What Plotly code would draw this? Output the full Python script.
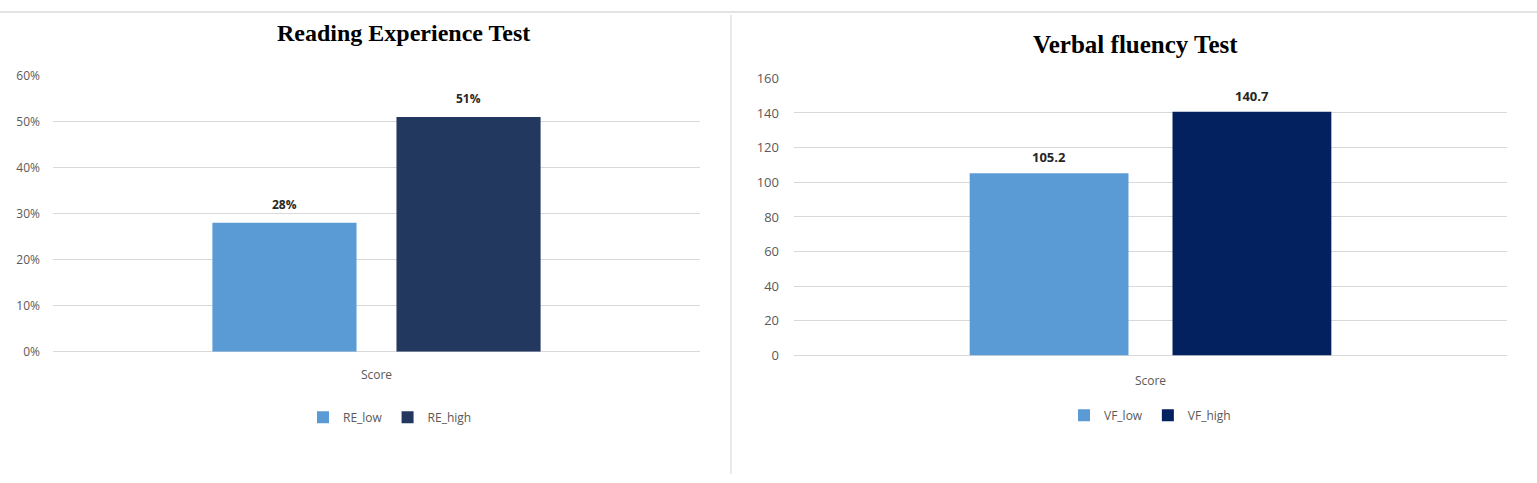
import plotly.graph_objects as go

# ---- data ----
category = ["Score"]
re_names = ["RE_low", "RE_high"]
re_values = [0.28, 0.51]
vf_names = ["VF_low", "VF_high"]
vf_values = [105.2, 140.7]
re_ticks = [0, 0.1, 0.2, 0.3, 0.4, 0.5, 0.6]
vf_ticks = [0, 20, 40, 60, 80, 100, 120, 140, 160]

re_colors = ["#5B9BD5", "#22385F"]
vf_colors = ["#5B9BD5", "#03205F"]

W, H = 1537, 483
BARGAP, BARGROUPGAP = 0.431, 0.217

fig = go.Figure()
for name, val, col in zip(re_names, re_values, re_colors):
    fig.add_trace(go.Bar(x=category, y=[val], name=name,
                         marker=dict(color=col, line_width=0),
                         xaxis="x", yaxis="y", legend="legend"))
for name, val, col in zip(vf_names, vf_values, vf_colors):
    fig.add_trace(go.Bar(x=category, y=[val], name=name,
                         marker=dict(color=col, line_width=0),
                         xaxis="x2", yaxis="y2", legend="legend2"))


def px_x(v):
    return v / W


def px_y(v):
    return 1 - v / H


def group_positions(n):
    slot = (1 - BARGAP) / n
    return [-(1 - BARGAP) / 2 + slot * (i + 0.5) for i in range(n)]


annotations = []
for pos, val in zip(group_positions(len(re_values)), re_values):
    annotations.append(dict(
        text=f"<b>{val:.0%}</b>", x=pos, y=val, xref="x", yref="y",
        yanchor="middle", yshift=18, showarrow=False,
        font=dict(family="Open Sans", size=12, color="#262626")))
for pos, val in zip(group_positions(len(vf_values)), vf_values):
    annotations.append(dict(
        text=f"<b>{val:.1f}</b>", x=pos, y=val, xref="x2", yref="y2",
        yanchor="middle", yshift=16, showarrow=False,
        font=dict(family="Open Sans", size=13, color="#262626")))
annotations += [
    dict(text="<b>Reading Experience Test</b>", x=px_x(403), y=px_y(25),
         xref="paper", yref="paper", xanchor="center", yanchor="middle",
         showarrow=False, font=dict(family="Liberation Serif", size=24, color="#000000")),
    dict(text="<b>Verbal fluency Test</b>", x=px_x(1135), y=px_y(37),
         xref="paper", yref="paper", xanchor="center", yanchor="middle",
         showarrow=False, font=dict(family="Liberation Serif", size=25, color="#000000")),
]

grid = "#D9D9D9"

fig.update_layout(
    width=W, height=H,
    margin=dict(l=0, r=0, t=0, b=0),
    paper_bgcolor="white", plot_bgcolor="white",
    barmode="group", bargap=BARGAP, bargroupgap=BARGROUPGAP,
    showlegend=True,
    xaxis=dict(domain=[px_x(53), px_x(700)], anchor="y", type="category",
               showgrid=False, showline=False, zeroline=False, ticks="",
               tickfont=dict(family="Open Sans", size=12, color="#595959"),
               ticklabelstandoff=14),
    yaxis=dict(domain=[px_y(356), px_y(69)], anchor="x", range=[0, 0.6],
               tickvals=re_ticks, tickformat=".0%", showgrid=True, gridcolor=grid,
               gridwidth=1, zeroline=True, zerolinecolor=grid, zerolinewidth=1,
               showline=False, ticks="",
               tickfont=dict(family="Open Sans", size=12, color="#595959"),
               ticklabelstandoff=12),
    xaxis2=dict(domain=[px_x(794), px_x(1507)], anchor="y2", type="category",
                showgrid=False, showline=False, zeroline=False, ticks="",
                tickfont=dict(family="Open Sans", size=12, color="#595959"),
                ticklabelstandoff=16),
    yaxis2=dict(domain=[px_y(360), px_y(72)], anchor="x2", range=[0, 160],
                tickvals=vf_ticks, showgrid=True, gridcolor=grid, gridwidth=1,
                zeroline=True, zerolinecolor=grid, zerolinewidth=1, showline=False,
                ticks="", tickfont=dict(family="Open Sans", size=13, color="#595959"),
                ticklabelstandoff=14),
    legend=dict(orientation="h", x=px_x(390), y=px_y(424), xanchor="center",
                yanchor="middle", font=dict(family="Open Sans", size=12, color="#595959"),
                itemwidth=30, tracegroupgap=0, bgcolor="rgba(0,0,0,0)"),
    legend2=dict(orientation="h", x=px_x(1150), y=px_y(422), xanchor="center",
                 yanchor="middle", font=dict(family="Open Sans", size=12, color="#595959"),
                 itemwidth=30, tracegroupgap=0, bgcolor="rgba(0,0,0,0)"),
    annotations=annotations,
    shapes=[
        dict(type="line", xref="paper", yref="paper", x0=0, x1=1,
             y0=px_y(3), y1=px_y(3), line=dict(color="#E3E3E3", width=2)),
        dict(type="line", xref="paper", yref="paper", x0=px_x(731), x1=px_x(731),
             y0=px_y(6), y1=0, line=dict(color="#E3E3E3", width=1.5)),
    ],
)

fig.write_html("out.html")
